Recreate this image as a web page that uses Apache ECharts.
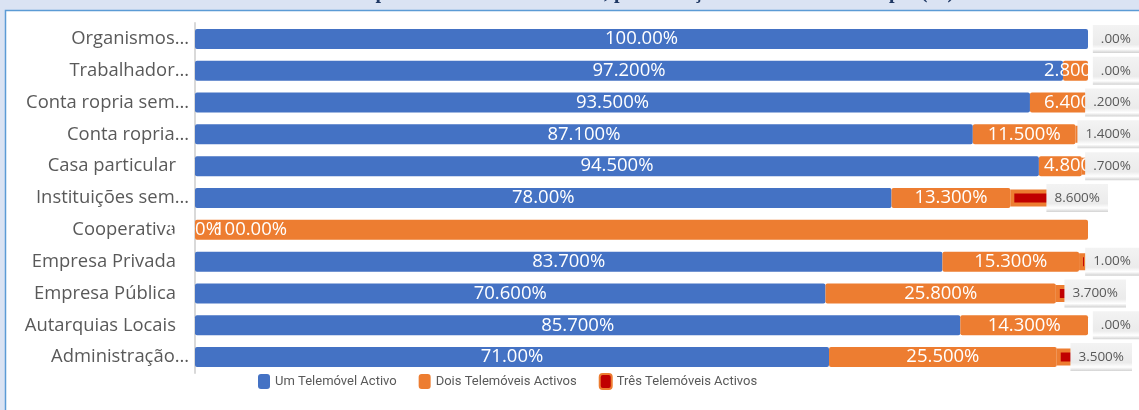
<!DOCTYPE html>
<html>
<head>
<meta charset="utf-8">
<script src="https://cdn.jsdelivr.net/npm/echarts@6/dist/echarts.min.js"></script>
<style>
  * { margin: 0; padding: 0; }
  body { background: #dae3f3; }
  #chart { width: 1139px; height: 410px; }
</style>
</head>
<body>
<div id="chart"></div>
<script>
// categorias (de cima para baixo)
const categories = [
  "Organismos…", "Trabalhador…", "Conta ropria sem…", "Conta ropria…",
  "Casa particular", "Instituições sem…", "Cooperativa", "Empresa Privada",
  "Empresa Pública", "Autarquias Locais", "Administração…"
];
const seriesNames = ["Um Telemóvel Activo", "Dois Telemóveis Activos", "Três Telemóveis Activos"];
// valores em %
const umActivo = [100, 97.2, 93.5, 87.1, 94.5, 78.0, 0, 83.7, 70.6, 85.7, 71.0];
const doisActivos = [0, 2.8, 6.4, 11.5, 4.8, 13.3, 100, 15.3, 25.8, 14.3, 25.5];
const tresActivos = [0, 0, 0.2, 1.4, 0.7, 8.6, null, 1.0, 3.7, 0, 3.5];
const titleText = "Gráfico 14: Pessoas com Telemóvel Activo por Número de Telemóveis, por Situação na Profissão Principal (%)";

// deslocamento manual das caixas de rótulo (como no original)
const redLabelShift = [0, 0, 0, 0, 0, -31, 0, 0, -13, 0, -7];

const fmt = v => (Number.isInteger(v) ? v.toFixed(2) : v.toFixed(3)) + "%";

let chart = echarts.init(document.getElementById("chart"));

let doisData = doisActivos.map((v, i) => {
  if (umActivo[i] === 0) {
    // rótulo encostado à esquerda na linha Cooperativa
    return { value: v, label: { position: "insideLeft", distance: 19 } };
  }
  return v;
});
let tresData = tresActivos.map(v => v === 0 ? { value: 0, itemStyle: { borderColor: "none" } } : v);

let option = {
  animation: false,
  textStyle: { fontFamily: "Open Sans" },
  graphic: [
    {
      type: "rect", z: -10, silent: true,
      shape: { x: 5.5, y: 10.5, width: 1200, height: 500 },
      style: { fill: "#fff", stroke: "#5b9bd5", lineWidth: 1.5 }
    },
    {
      type: "text", z: -5, left: 12, top: -17, silent: true,
      style: {
        text: titleText, fill: "#1f3864",
        font: "bold 20px 'Liberation Serif'"
      }
    }
  ],
  legend: {
    data: seriesNames,
    left: 253,
    top: 368,
    itemWidth: 12,
    itemHeight: 15,
    itemGap: 22,
    icon: "roundRect",
    textStyle: { fontSize: 13, color: "#595959", fontFamily: "Roboto" }
  },
  grid: { left: 195, right: 51, top: 23, bottom: 37 },
  xAxis: { type: "value", min: 0, max: 100, show: false },
  yAxis: [
    {
      type: "category",
      inverse: true,
      data: categories,
      axisLine: { show: true, lineStyle: { color: "#d9d9d9", width: 2 } },
      axisTick: { show: false },
      axisLabel: {
        fontSize: 18.4,
        color: "#595959",
        margin: 6,
        formatter: v => v.endsWith("…") ? v : "{p|" + v + "}",
        rich: { p: { fontSize: 18.4, color: "#595959", padding: [0, 13, 0, 0] } }
      }
    },
    { type: "category", inverse: true, data: categories, show: false }
  ],
  series: [
    {
      name: seriesNames[0],
      type: "bar",
      stack: "a",
      barWidth: 20,
      data: umActivo,
      itemStyle: { color: "#4472c4", borderRadius: 2 },
      label: { show: true, position: "inside", color: "#fff", fontSize: 18.5, formatter: p => fmt(p.value) }
    },
    {
      name: seriesNames[1],
      type: "bar",
      stack: "a",
      barWidth: 20,
      data: doisData,
      itemStyle: { color: "#ed7d31", borderRadius: 2 },
      label: {
        show: true, position: "inside", color: "#fff", fontSize: 18.5,
        formatter: p => p.value === 0 ? "" : fmt(p.value)
      },
      // rótulos que não cabem ficam cortados na margem, como no original
      labelLayout: params => {
        let r = params.labelRect;
        return r.x + r.width > 1086 ? { dx: 1044 - r.x } : {};
      }
    },
    {
      // base invisível para posicionar a terceira série
      name: "base",
      type: "bar",
      stack: "r",
      yAxisIndex: 1,
      barWidth: 17,
      silent: true,
      data: umActivo.map((v, i) => v + doisActivos[i]),
      itemStyle: { color: "rgba(0,0,0,0)" },
      tooltip: { show: false }
    },
    {
      name: seriesNames[2],
      type: "bar",
      stack: "r",
      yAxisIndex: 1,
      barWidth: 17,
      data: tresData,
      itemStyle: { color: "#c00000", borderColor: "#ed7d31", borderWidth: 4 },
      label: {
        show: true,
        position: "right",
        distance: 9,
        color: "#595959",
        fontSize: 13.5,
        lineHeight: 14,
        padding: [7, 8],
        backgroundColor: {
          type: "linear", x: 0, y: 0, x2: 0, y2: 1,
          colorStops: [
            { offset: 0, color: "#f3f3f3" },
            { offset: 0.7, color: "#ebebeb" },
            { offset: 0.86, color: "#ffffff" },
            { offset: 1, color: "#d2d2d2" }
          ]
        },
        formatter: p => fmt(p.value).replace(/^0\./, ".")
      },
      labelLayout: params => {
        let r = params.labelRect;
        let over = Math.min(0, 1139 - (r.x + r.width));
        return { dx: over + redLabelShift[params.dataIndex] };
      }
    }
  ]
};
chart.setOption(option);
</script>
</body>
</html>
